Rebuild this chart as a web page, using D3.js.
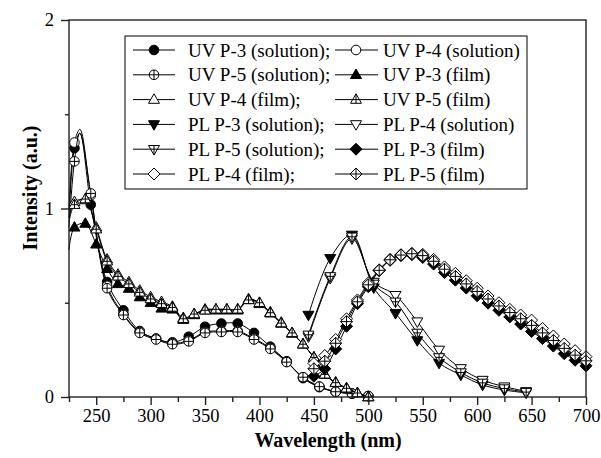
<!DOCTYPE html>
<html>
<head>
<meta charset="utf-8">
<script src="https://cdn.jsdelivr.net/npm/d3@7"></script>
<style>
  body { margin: 0; background: #fff; }
  svg { display: block; font-family: "Liberation Serif", "Times New Roman", serif; }
</style>
</head>
<body>
<svg id="chart" width="601" height="458"></svg>
<script>
// UV absorption, solution (markers every 15 nm)
const uvSolWl = [225, 230, 235, 245, 260, 275, 290, 305, 320, 335, 350, 365, 380, 395, 410, 425, 440, 455, 470, 485, 500];
const uvSolP3 = [0.95, 1.32, 1.40, 1.02, 0.61, 0.46, 0.35, 0.31, 0.29, 0.32, 0.373, 0.39, 0.39, 0.34, 0.267, 0.19, 0.10, 0.052, 0.028, 0.018, 0.005];
const uvSolP4 = [1.0, 1.35, 1.42, 1.07, 0.59, 0.44, 0.345, 0.31, 0.285, 0.30, 0.345, 0.35, 0.35, 0.31, 0.26, 0.187, 0.105, 0.055, 0.028, 0.018, 0.005];
const uvSolP5 = [0.9, 1.25, 1.40, 1.08, 0.577, 0.435, 0.34, 0.305, 0.28, 0.295, 0.34, 0.345, 0.345, 0.305, 0.255, 0.185, 0.105, 0.055, 0.028, 0.018, 0.005];
const uvSolNoMarker = [225, 235];

// UV absorption, film (markers every 10 nm)
const uvFilmWl = [225, 230, 240, 250, 260, 270, 280, 290, 300, 310, 320, 330, 340, 350, 360, 370, 380, 390, 400, 410, 420, 430, 440, 450, 460, 470, 480, 490, 500];
const uvFilmP3 = [0.78, 0.90, 0.92, 0.81, 0.68, 0.60, 0.575, 0.53, 0.50, 0.47, 0.465, 0.41, 0.435, 0.46, 0.46, 0.46, 0.46, 0.515, 0.494, 0.444, 0.39, 0.337, 0.28, 0.21, 0.12, 0.075, 0.045, 0.02, 0.0];
const uvFilmP4 = [0.95, 1.035, 1.045, 0.90, 0.73, 0.65, 0.61, 0.565, 0.53, 0.505, 0.48, 0.42, 0.44, 0.465, 0.465, 0.465, 0.465, 0.52, 0.50, 0.45, 0.395, 0.34, 0.28, 0.21, 0.12, 0.078, 0.048, 0.022, 0.0];
const uvFilmP5 = [0.93, 1.02, 1.05, 0.89, 0.72, 0.64, 0.60, 0.555, 0.52, 0.495, 0.475, 0.415, 0.44, 0.46, 0.465, 0.465, 0.465, 0.515, 0.50, 0.447, 0.392, 0.34, 0.28, 0.21, 0.12, 0.076, 0.046, 0.021, 0.0];
const uvFilmNoMarker = [225];

// PL emission, solution
const plSolWl = [445, 465, 485, 505, 525, 545, 565, 585, 605, 625, 645];
const plSolP3 = [0.435, 0.736, 0.86, 0.58, 0.444, 0.30, 0.18, 0.117, 0.064, 0.037, 0.022];
const plSolP4 = [0.32, 0.63, 0.84, 0.61, 0.54, 0.40, 0.25, 0.152, 0.09, 0.055, 0.03];
const plSolP5 = [0.33, 0.64, 0.85, 0.60, 0.505, 0.34, 0.21, 0.13, 0.075, 0.045, 0.026];

// PL emission, film
const plFilmWl = [450, 460, 470, 480, 490, 500, 510, 520, 530, 540, 550, 560, 570, 580, 590, 600, 610, 620, 630, 640, 650, 660, 670, 680, 690, 700];
const plFilmP3 = [0.11, 0.15, 0.255, 0.375, 0.495, 0.585, 0.67, 0.725, 0.75, 0.755, 0.74, 0.705, 0.66, 0.62, 0.578, 0.537, 0.498, 0.46, 0.425, 0.387, 0.347, 0.31, 0.27, 0.23, 0.195, 0.165];
const plFilmP4 = [0.178, 0.22, 0.305, 0.415, 0.515, 0.605, 0.675, 0.73, 0.755, 0.762, 0.757, 0.73, 0.69, 0.656, 0.617, 0.577, 0.536, 0.50, 0.465, 0.435, 0.408, 0.364, 0.324, 0.281, 0.246, 0.214];
const plFilmP5 = [0.15, 0.19, 0.285, 0.40, 0.505, 0.595, 0.672, 0.728, 0.753, 0.76, 0.75, 0.72, 0.678, 0.64, 0.60, 0.56, 0.52, 0.483, 0.448, 0.415, 0.38, 0.34, 0.30, 0.258, 0.222, 0.192];

const xMajorTicks = [250, 300, 350, 400, 450, 500, 550, 600, 650, 700];
const xMinorTicks = [225, 275, 325, 375, 425, 475, 525, 575, 625, 675];
const yMajorTicks = [0, 1, 2];
const yMinorTicks = [0.5, 1.5];

// label, wavelengths, values, marker shape, marker style, wavelengths drawn without marker
const series = [
  ["UV P-3 (solution);", uvSolWl, uvSolP3, "circle", "filled", uvSolNoMarker],
  ["UV P-4 (solution)", uvSolWl, uvSolP4, "circle", "open", uvSolNoMarker],
  ["UV P-5 (solution);", uvSolWl, uvSolP5, "circle", "plus", uvSolNoMarker],
  ["UV P-3 (film)", uvFilmWl, uvFilmP3, "up", "filled", uvFilmNoMarker],
  ["UV P-4 (film);", uvFilmWl, uvFilmP4, "up", "open", uvFilmNoMarker],
  ["UV P-5 (film)", uvFilmWl, uvFilmP5, "up", "plus", uvFilmNoMarker],
  ["PL P-3 (solution);", plSolWl, plSolP3, "down", "filled", []],
  ["PL P-4 (solution)", plSolWl, plSolP4, "down", "open", []],
  ["PL P-5 (solution);", plSolWl, plSolP5, "down", "plus", []],
  ["PL P-3 (film)", plFilmWl, plFilmP3, "diamond", "filled", []],
  ["PL P-4 (film);", plFilmWl, plFilmP4, "diamond", "open", []],
  ["PL P-5 (film)", plFilmWl, plFilmP5, "diamond", "plus", []]
];

const svg = d3.select("#chart");
const plotLeft = 69, plotRight = 586, plotTop = 20, plotBottom = 397;

const x = d3.scaleLinear().domain([225, 700]).range([plotLeft, plotRight]);
const y = d3.scaleLinear().domain([0, 2]).range([plotBottom, plotTop]);

svg.append("rect").attr("width", 601).attr("height", 458).attr("fill", "#fff");

// shapes
const shapes = {
  circle: { path: "M4.8,0A4.8,4.8 0 1,1 -4.8,0A4.8,4.8 0 1,1 4.8,0Z", cross: "M-4.8,0H4.8M0,-4.8V4.8" },
  up: { path: "M0,-5.8L5.5,3.7L-5.5,3.7Z", cross: "M-3.3,0H3.3M0,-5.8V3.7" },
  down: { path: "M0,5.8L5.5,-3.7L-5.5,-3.7Z", cross: "M-3.3,0H3.3M0,5.8V-3.7" },
  diamond: { path: "M0,-6L6,0L0,6L-6,0Z", cross: "M-6,0H6M0,-6V6" }
};

function drawMarker(g, shape, style) {
  g.append("path")
    .attr("d", shapes[shape].path)
    .attr("fill", style == "filled" ? "#000" : "#fff")
    .attr("stroke", "#000")
    .attr("stroke-width", 1);
  if (style == "plus") {
    g.append("path")
      .attr("d", shapes[shape].cross)
      .attr("fill", "none")
      .attr("stroke", "#000")
      .attr("stroke-width", 1);
  }
}

const line = d3.line()
  .x(d => x(d[0]))
  .y(d => y(d[1]))
  .curve(d3.curveCatmullRom.alpha(0.5));

const plot = svg.append("g");

series.forEach(s => {
  const pts = s[1].map((w, i) => [w, s[2][i]]);
  plot.append("path")
    .datum(pts)
    .attr("d", line)
    .attr("fill", "none")
    .attr("stroke", "#000")
    .attr("stroke-width", 1);

  pts.filter(p => s[5].indexOf(p[0]) < 0).forEach(p => {
    const m = plot.append("g").attr("transform", "translate(" + x(p[0]) + "," + y(p[1]) + ")");
    drawMarker(m, s[3], s[4]);
  });
});

// frame and axes
const axisColor = "#222";
svg.append("rect")
  .attr("x", plotLeft).attr("y", plotTop)
  .attr("width", plotRight - plotLeft).attr("height", plotBottom - plotTop)
  .attr("fill", "none").attr("stroke", axisColor).attr("stroke-width", 1.4);

const xAxis = d3.axisBottom(x).tickValues(xMajorTicks).tickSize(8).tickSizeOuter(0).tickPadding(4);
const gx = svg.append("g").attr("transform", "translate(0," + plotBottom + ")").call(xAxis);
gx.select(".domain").remove();
gx.selectAll(".tick line").attr("stroke", axisColor).attr("stroke-width", 1.4);
gx.selectAll(".tick text").attr("font-size", 18.5).attr("font-family", "Liberation Serif, serif").attr("fill", "#000");

const xMinor = d3.axisBottom(x).tickValues(xMinorTicks).tickSize(5).tickSizeOuter(0).tickFormat("");
const gxm = svg.append("g").attr("transform", "translate(0," + plotBottom + ")").call(xMinor);
gxm.select(".domain").remove();
gxm.selectAll(".tick line").attr("stroke", axisColor).attr("stroke-width", 1.4);

const yAxis = d3.axisLeft(y).tickValues(yMajorTicks).tickSize(8).tickSizeOuter(0).tickPadding(7).tickFormat(d3.format("d"));
const gy = svg.append("g").attr("transform", "translate(" + plotLeft + ",0)").call(yAxis);
gy.select(".domain").remove();
gy.selectAll(".tick line").attr("stroke", axisColor).attr("stroke-width", 1.4);
gy.selectAll(".tick text").attr("font-size", 18.5).attr("font-family", "Liberation Serif, serif").attr("fill", "#000");

const yMinor = d3.axisLeft(y).tickValues(yMinorTicks).tickSize(4).tickSizeOuter(0).tickFormat("");
const gym = svg.append("g").attr("transform", "translate(" + plotLeft + ",0)").call(yMinor);
gym.select(".domain").remove();
gym.selectAll(".tick line").attr("stroke", axisColor).attr("stroke-width", 1.4);

// axis titles
svg.append("text")
  .attr("x", 328).attr("y", 447)
  .attr("text-anchor", "middle")
  .attr("font-size", 20).attr("font-weight", "bold")
  .text("Wavelength (nm)");

svg.append("text")
  .attr("transform", "translate(30,188) rotate(-90)")
  .attr("text-anchor", "middle")
  .attr("dominant-baseline", "central")
  .attr("font-size", 20).attr("font-weight", "bold")
  .text("Intensity (a.u.)");

// legend
const legend = svg.append("g");
legend.append("rect")
  .attr("x", 125).attr("y", 36).attr("width", 402).attr("height", 153)
  .attr("fill", "#fff").attr("stroke", "#000").attr("stroke-width", 1);

const cols = [
  { x1: 133, x2: 175, mx: 154, tx: 188 },
  { x1: 335, x2: 378, mx: 356, tx: 383 }
];

series.forEach((s, i) => {
  const c = cols[i % 2];
  const ry = 50 + Math.floor(i / 2) * 24.8;
  legend.append("line")
    .attr("x1", c.x1).attr("x2", c.x2).attr("y1", ry).attr("y2", ry)
    .attr("stroke", "#000").attr("stroke-width", 1);
  const m = legend.append("g").attr("transform", "translate(" + c.mx + "," + ry + ")");
  drawMarker(m, s[3], s[4]);
  legend.append("text")
    .attr("x", c.tx).attr("y", ry)
    .attr("dominant-baseline", "central")
    .attr("font-size", 19)
    .text(s[0]);
});
</script>
</body>
</html>
